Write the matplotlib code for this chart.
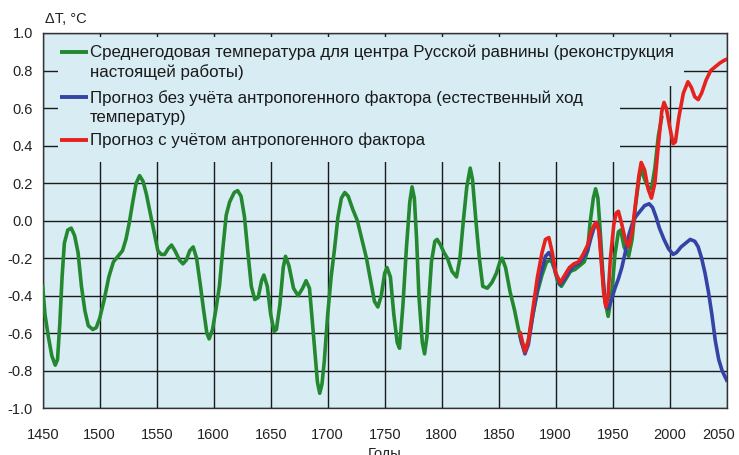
import matplotlib.pyplot as plt
from matplotlib.patches import Rectangle
from matplotlib.transforms import ScaledTranslation

plt.rcParams["font.family"] = ["Liberation Sans", "DejaVu Sans"]

# reconstruction (green)
years_green = [1450, 1452, 1455, 1458, 1461, 1463, 1465, 1467, 1469, 1472, 1475, 1478, 1481, 1484,
               1487, 1490, 1494, 1497, 1500, 1504, 1508, 1512, 1516, 1520, 1523, 1526, 1529, 1532,
               1535, 1538, 1541, 1545, 1549, 1551, 1554, 1557, 1560, 1563, 1566, 1570, 1573, 1576,
               1579, 1582, 1585, 1588, 1591, 1594, 1596, 1599, 1602, 1605, 1608, 1611, 1614, 1618,
               1621, 1624, 1627, 1630, 1633, 1636, 1639, 1642, 1644, 1647, 1650, 1653, 1655, 1658,
               1661, 1663, 1666, 1670, 1674, 1678, 1681, 1684, 1686, 1689, 1691, 1693, 1695, 1697,
               1700, 1703, 1706, 1709, 1712, 1715, 1718, 1722, 1726, 1730, 1734, 1738, 1741, 1744,
               1747, 1750, 1752, 1755, 1758, 1761, 1763, 1766, 1769, 1772, 1774, 1776, 1778, 1780,
               1783, 1785, 1787, 1789, 1791, 1794, 1796, 1799, 1802, 1805, 1809, 1813, 1816, 1819,
               1822, 1825, 1827, 1830, 1833, 1836, 1840, 1844, 1848, 1851, 1853, 1856, 1860, 1864,
               1867, 1870, 1873, 1876, 1880, 1884, 1888, 1892, 1896, 1899, 1902, 1905, 1909, 1913,
               1917, 1921, 1925, 1928, 1930, 1933, 1935, 1937, 1939, 1941, 1943, 1946, 1949, 1952,
               1955, 1957, 1960, 1964, 1967, 1970, 1973, 1975, 1978, 1981, 1984, 1987, 1990, 1993]
temp_green = [-0.35, -0.50, -0.62, -0.72, -0.77, -0.74, -0.55, -0.30, -0.12, -0.05, -0.04, -0.08, -0.17, -0.35,
              -0.48, -0.56, -0.58, -0.57, -0.52, -0.42, -0.30, -0.22, -0.19, -0.16, -0.10, -0.01, 0.10, 0.20,
              0.24, 0.21, 0.14, 0.02, -0.10, -0.16, -0.18, -0.18, -0.15, -0.13, -0.16, -0.21, -0.23, -0.21,
              -0.16, -0.14, -0.20, -0.33, -0.47, -0.60, -0.63, -0.58, -0.47, -0.35, -0.15, 0.03, 0.10, 0.15,
              0.16, 0.13, 0.02, -0.17, -0.35, -0.42, -0.41, -0.32, -0.29, -0.35, -0.50, -0.59, -0.58, -0.45,
              -0.25, -0.19, -0.24, -0.36, -0.40, -0.36, -0.32, -0.36, -0.50, -0.72, -0.86, -0.92, -0.87, -0.75,
              -0.50, -0.30, -0.15, 0.02, 0.12, 0.15, 0.13, 0.06, 0.00, -0.10, -0.20, -0.33, -0.43, -0.46,
              -0.40, -0.28, -0.25, -0.30, -0.50, -0.65, -0.68, -0.45, -0.15, 0.10, 0.18, 0.12, -0.10, -0.40,
              -0.65, -0.71, -0.62, -0.40, -0.22, -0.11, -0.10, -0.13, -0.17, -0.20, -0.27, -0.30, -0.20, 0.00,
              0.18, 0.28, 0.22, 0.00, -0.20, -0.35, -0.36, -0.33, -0.28, -0.22, -0.20, -0.25, -0.38, -0.48,
              -0.57, -0.65, -0.70, -0.64, -0.50, -0.38, -0.29, -0.22, -0.21, -0.26, -0.33, -0.35, -0.31, -0.27,
              -0.26, -0.24, -0.22, -0.16, -0.02, 0.12, 0.17, 0.12, -0.05, -0.25, -0.42, -0.51, -0.40, -0.18,
              -0.06, -0.05, -0.14, -0.19, -0.10, 0.08, 0.22, 0.28, 0.22, 0.18, 0.17, 0.28, 0.45, 0.55]

# forecast without anthropogenic factor (blue)
years_blue = [1869, 1873, 1876, 1880, 1884, 1888, 1891, 1894, 1897, 1900, 1904, 1908, 1912, 1916,
              1920, 1924, 1928, 1931, 1934, 1936, 1938, 1940, 1942, 1944, 1946, 1949, 1952, 1955,
              1958, 1961, 1964, 1967, 1970, 1974, 1978, 1982, 1985, 1988, 1991, 1995, 1999, 2003,
              2006, 2010, 2014, 2018, 2022, 2025, 2028, 2031, 2034, 2037, 2040, 2043, 2046, 2050]
temp_blue = [-0.62, -0.71, -0.66, -0.50, -0.36, -0.26, -0.19, -0.17, -0.20, -0.28, -0.34, -0.31, -0.27, -0.24,
             -0.23, -0.20, -0.16, -0.09, -0.03, -0.01, -0.05, -0.20, -0.35, -0.45, -0.47, -0.42, -0.36, -0.31,
             -0.25, -0.17, -0.08, -0.02, 0.02, 0.05, 0.08, 0.09, 0.07, 0.02, -0.04, -0.10, -0.15, -0.18,
             -0.17, -0.14, -0.12, -0.10, -0.11, -0.14, -0.20, -0.28, -0.38, -0.50, -0.64, -0.74, -0.80, -0.85]

# forecast with anthropogenic factor (red)
years_red = [1869, 1873, 1876, 1880, 1884, 1888, 1891, 1894, 1897, 1900, 1904, 1908, 1912, 1916,
             1920, 1924, 1928, 1931, 1934, 1936, 1938, 1940, 1942, 1944, 1946, 1948, 1951, 1953,
             1955, 1958, 1961, 1964, 1967, 1970, 1973, 1975, 1978, 1981, 1984, 1987, 1990, 1993,
             1995, 1997, 2000, 2003, 2005, 2008, 2012, 2016, 2019, 2022, 2025, 2028, 2032, 2036,
             2040, 2044, 2048, 2050]
temp_red = [-0.60, -0.70, -0.64, -0.47, -0.30, -0.17, -0.10, -0.09, -0.17, -0.28, -0.33, -0.29, -0.25, -0.23,
            -0.22, -0.18, -0.13, -0.06, -0.02, -0.01, -0.06, -0.22, -0.38, -0.46, -0.40, -0.20, -0.02, 0.04,
            0.05, -0.02, -0.10, -0.14, -0.06, 0.09, 0.24, 0.31, 0.27, 0.17, 0.12, 0.20, 0.40, 0.58,
            0.63, 0.60, 0.50, 0.41, 0.42, 0.55, 0.68, 0.74, 0.71, 0.66, 0.645, 0.68, 0.75, 0.80,
            0.82, 0.84, 0.855, 0.86]

x_ticks = [1450, 1500, 1550, 1600, 1650, 1700, 1750, 1800, 1850, 1900, 1950, 2000, 2050]
y_ticks = [1.0, 0.8, 0.6, 0.4, 0.2, 0.0, -0.2, -0.4, -0.6, -0.8, -1.0]

labels = [
    "Среднегодовая температура для центра Русской равнины (реконструкция\nнастоящей работы)",
    "Прогноз без учёта антропогенного фактора (естественный ход\nтемператур)",
    "Прогноз с учётом антропогенного фактора",
]
colors = ["#23882f", "#3544a4", "#e5221e"]

W, H = 739, 455
fig = plt.figure(figsize=(W / 100, H / 100), dpi=100)
ax_l, ax_r, ax_t, ax_b = 42.7, 726.7, 33.0, 408.3
ax = fig.add_axes([ax_l / W, (H - ax_b) / H, (ax_r - ax_l) / W, (ax_b - ax_t) / H])
bg = "#d8ecf4"
ax.set_facecolor(bg)

ax.plot(years_green, temp_green, color=colors[0], lw=2.6, zorder=3)
ax.plot(years_blue, temp_blue, color=colors[1], lw=2.6, zorder=4)
ax.plot(years_red, temp_red, color=colors[2], lw=2.6, zorder=5)

ax.set_xlim(1450, 2050)
ax.set_ylim(-1.0, 1.0)
ax.set_xticks(x_ticks)
ax.set_yticks(y_ticks)
ax.set_yticklabels(["%.1f" % v for v in y_ticks])
ax.tick_params(axis="both", length=0, labelsize=10.5, colors="#222222")
ax.tick_params(axis="y", pad=7)
ax.tick_params(axis="x", pad=14)
ax.grid(True, color="#1a1a1a", lw=1.0)
ax.set_axisbelow(True)
for s in ax.spines.values():
    s.set_color("#333333")
    s.set_linewidth(1.0)

# last year label sits a bit inside, like the original
last = ax.get_xticklabels()[-1]
last.set_transform(last.get_transform() + ScaledTranslation(-8 / 100, 0, fig.dpi_scale_trans))


def to_ax(px, py):
    return (px - ax_l) / (ax_r - ax_l), (ax_b - py) / (ax_b - ax_t)


# legend box (covers grid, lies under the curves)
for (x0, y0, x1, y1) in [(58, 37, 684, 86), (58, 85, 620, 162)]:
    a0 = to_ax(x0, y1)
    a1 = to_ax(x1, y0)
    ax.add_patch(Rectangle(a0, a1[0] - a0[0], a1[1] - a0[1], transform=ax.transAxes,
                           facecolor=bg, edgecolor="none", zorder=1.5))

rows = [52, 97, 140]
for lab, col, py in zip(labels, colors, rows):
    h0 = to_ax(60, py)
    h1 = to_ax(88, py)
    ax.plot([h0[0], h1[0]], [h0[1], h1[1]], color=col, lw=2.8, transform=ax.transAxes,
            solid_capstyle="butt", zorder=6)
    tx = to_ax(90, py - 7)
    ax.text(tx[0], tx[1], lab, transform=ax.transAxes, fontsize=12.2, va="top", ha="left",
            linespacing=1.32, color="#1a1a1a", zorder=6)

fig.text(45 / W, (H - 19) / H, "ΔT, °C", fontsize=10.5, va="center", ha="left", color="#222222")
fig.text((ax_l + ax_r) / 2 / W, (H - 447) / H, "Годы", fontsize=10.5, va="top", ha="center",
         color="#222222")

plt.savefig("out.png", dpi=100)
